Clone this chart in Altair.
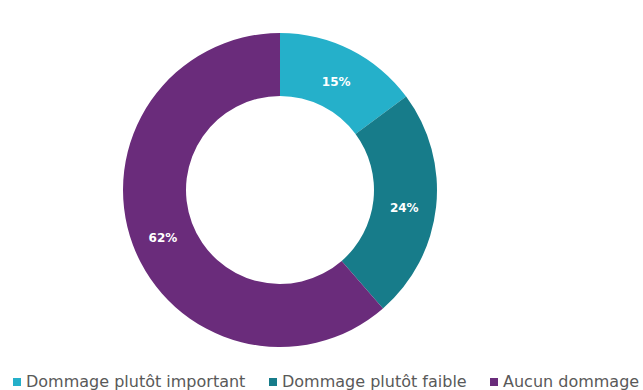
import altair as alt
import pandas as pd

categories = ["Dommage plutôt important", "Dommage plutôt faible", "Aucun dommage"]
values = [15, 24, 62]
labels = ["15%", "24%", "62%"]
colors = ["#25B0CA", "#177C8A", "#6A2C7B"]

df = pd.DataFrame({
    "cat": categories,
    "val": values,
    "lab": labels,
    "ord": list(range(len(categories))),
})

CX, CY = 280, 190

base = alt.Chart(df).encode(
    theta=alt.Theta("val:Q", stack=True),
    order=alt.Order("ord:Q"),
)

arcs = base.mark_arc(x=CX, y=CY, outerRadius=157, innerRadius=94).encode(
    color=alt.Color(
        "cat:N",
        scale=alt.Scale(domain=categories, range=colors),
        sort=categories,
        legend=alt.Legend(
            title=None,
            orient="none",
            legendX=9,
            legendY=374,
            direction="horizontal",
            symbolType="square",
            symbolSize=64,
            symbolStrokeWidth=0,
            labelFont="DejaVu Sans",
            labelFontSize=16,
            labelColor="#595959",
            labelOffset=1,
            columnPadding=19,
            labelLimit=400,
        ),
    )
)

text = base.mark_text(
    x=CX, y=CY, radius=125, dy=4,
    font="DejaVu Sans", fontWeight="bold", fontSize=12, color="white",
).encode(text="lab:N")

chart = (arcs + text).properties(
    width=643, height=390, autosize="none", padding=0, background="white"
).configure_view(stroke=None)

chart.save("out.html", embed_options={"renderer": "svg", "actions": False})
